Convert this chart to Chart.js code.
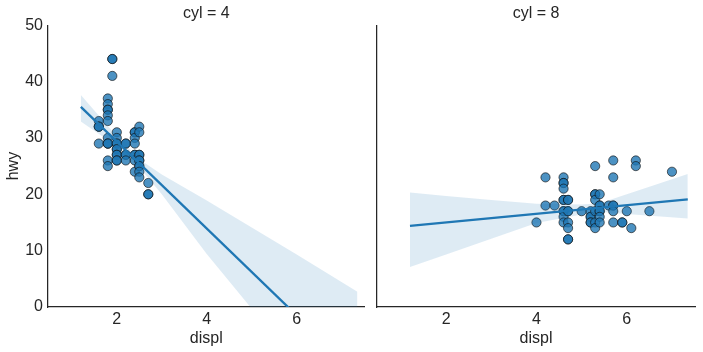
<!DOCTYPE html>
<html><head><meta charset="utf-8">
<script src="https://cdn.jsdelivr.net/npm/chart.js@4.4.1/dist/chart.umd.min.js"></script>
<style>
body{margin:0;background:#fff;width:703px;height:352px;overflow:hidden;position:relative}
canvas{position:absolute;top:0}
</style></head><body>
<canvas id="c4" width="370" height="352" style="left:0px"></canvas>
<canvas id="c8" width="333" height="352" style="left:370px"></canvas>
<script>
// ---- data ----
const xTicks = [2, 4, 6];
const yTicks = [0, 10, 20, 30, 40, 50];

// cyl = 4
const cyl4Displ = [1.6,1.6,1.6,1.6,1.6,
  1.8,1.8,1.8,1.8,1.8,1.8,1.8,1.8,1.8,1.8,1.8,1.8,
  1.9,1.9,1.9,
  2.0,2.0,2.0,2.0,2.0,2.0,2.0,2.0,2.0,2.0,
  2.2,2.2,2.2,2.2,2.2,
  2.4,2.4,2.4,2.4,2.4,2.4,2.4,2.4,
  2.5,2.5,2.5,2.5,2.5,2.5,2.5,2.5,2.5,2.5,
  2.7,2.7,2.7];
const cyl4Hwy = [33,32,32,32,29,
  37,36,35,35,34,33,30,29,29,29,26,25,
  44,44,41,
  31,30,29,29,28,28,27,27,26,26,
  29,29,27,27,26,
  31,31,30,29,27,27,26,24,
  32,31,27,27,26,26,25,25,24,23,
  22,20,20];
const cyl4LineX = [1.2, 7.35];
const cyl4LineY = [35.5, -11.9];
const cyl4BandX  = [1.2, 2.0, 2.5, 3.0, 4.0, 5.0, 6.0, 7.35];
const cyl4BandLo = [32.9, 28.5, 24.8, 20.0, 9.4, -0.3, -10.0, -26.0];
const cyl4BandHi = [37.6, 30.3, 26.2, 23.5, 18.9, 14.1, 9.3, 2.7];

// cyl = 8
const cyl8Displ = [4.0,
  4.2,4.2,
  4.4,
  4.6,4.6,4.6,4.6,4.6,4.6,4.6,4.6,4.6,4.6,
  4.7,4.7,4.7,4.7,4.7,4.7,4.7,4.7,
  5.0,
  5.2,5.2,5.2,5.2,5.2,
  5.3,5.3,5.3,5.3,5.3,5.3,5.3,
  5.4,5.4,5.4,5.4,5.4,5.4,5.4,
  5.6,
  5.7,5.7,5.7,5.7,5.7,5.7,
  5.9,5.9,
  6.0,
  6.1,
  6.2,6.2,
  6.5,
  7.0];
const cyl8Hwy = [15,
  23,18,
  18,
  23,22,22,21,19,19,17,17,16,15,
  19,19,17,17,15,14,12,12,
  17,
  17,16,16,15,15,
  25,20,20,19,17,15,14,
  20,18,18,17,17,16,15,
  18,
  26,23,18,18,17,15,
  15,15,
  17,
  14,
  26,25,
  17,
  24];
const cyl8LineX = [1.2, 7.35];
const cyl8LineY = [14.4, 19.1];
const cyl8BandX  = [1.2, 2.0, 3.0, 4.0, 5.0, 5.4, 6.0, 7.35];
const cyl8BandLo = [7.1, 9.3, 12.1, 14.9, 16.4, 16.9, 16.5, 15.7];
const cyl8BandHi = [20.3, 19.7, 19.0, 18.3, 18.2, 18.4, 20.0, 23.6];

// ---- chart construction ----
Chart.defaults.font.family = "'Liberation Sans', Arial, sans-serif";
Chart.defaults.color = '#262626';
const INK = '#262626';
const BLUE = '#1f77b4';

function zip(xs, ys){ return xs.map((x,i)=>({x:x, y:ys[i]})); }

function makePanel(id, title, dx, dy, lx, ly, bx, blo, bhi, showY, padRight){
  new Chart(document.getElementById(id), {
    type: 'scatter',
    data: { datasets: [
      { data: zip(dx, dy), order: 3, pointRadius: 4.6, pointHoverRadius: 4.6,
        backgroundColor: 'rgba(31,119,180,0.8)', borderColor: 'rgba(15,15,15,0.8)', borderWidth: 0.8 },
      { data: zip(bx, blo), order: 2, showLine: true, pointRadius: 0, borderWidth: 0,
        borderColor: 'rgba(0,0,0,0)', fill: false },
      { data: zip(bx, bhi), order: 2, showLine: true, pointRadius: 0, borderWidth: 0,
        borderColor: 'rgba(0,0,0,0)', fill: '-1', backgroundColor: 'rgba(31,119,180,0.15)' },
      { data: zip(lx, ly), order: 1, showLine: true, pointRadius: 0, borderWidth: 2.3,
        borderColor: BLUE, fill: false }
    ]},
    options: {
      responsive: false, animation: false, events: [],
      layout: { padding: { left: 0, right: padRight, top: 0, bottom: 0 } },
      plugins: {
        legend: { display: false }, tooltip: { enabled: false },
        title: { display: true, text: title, fullSize: false, color: INK,
          font: { size: 16, weight: 'normal' }, padding: { top: 4, bottom: 2 } }
      },
      scales: {
        x: { type: 'linear', min: 0.47, max: 7.51,
          afterBuildTicks: s => { s.ticks = xTicks.map(v => ({value: v})); },
          afterFit: s => { s.height = 45; },
          grid: { display: false, drawTicks: false, tickLength: 0 },
          border: { display: true, color: INK, width: 1.25 },
          ticks: { color: INK, font: { size: 16 }, padding: 3, maxRotation: 0 },
          title: { display: true, text: 'displ', color: INK, font: { size: 16 }, padding: 4 } },
        y: { type: 'linear', min: 0, max: 50,
          afterBuildTicks: s => { s.ticks = yTicks.map(v => ({value: v})); },
          afterFit: s => { s.width = showY ? 48 : 7; },
          grid: { display: false, drawTicks: false, tickLength: 0 },
          border: { display: true, color: INK, width: 1.25 },
          ticks: { display: showY, color: INK, font: { size: 16 }, padding: 5 },
          title: { display: showY, text: 'hwy', color: INK, font: { size: 16 }, padding: 4 } }
      }
    }
  });
}

makePanel('c4', 'cyl = 4', cyl4Displ, cyl4Hwy, cyl4LineX, cyl4LineY, cyl4BandX, cyl4BandLo, cyl4BandHi, true, 5);
makePanel('c8', 'cyl = 8', cyl8Displ, cyl8Hwy, cyl8LineX, cyl8LineY, cyl8BandX, cyl8BandLo, cyl8BandHi, false, 8);
</script>
</body></html>
